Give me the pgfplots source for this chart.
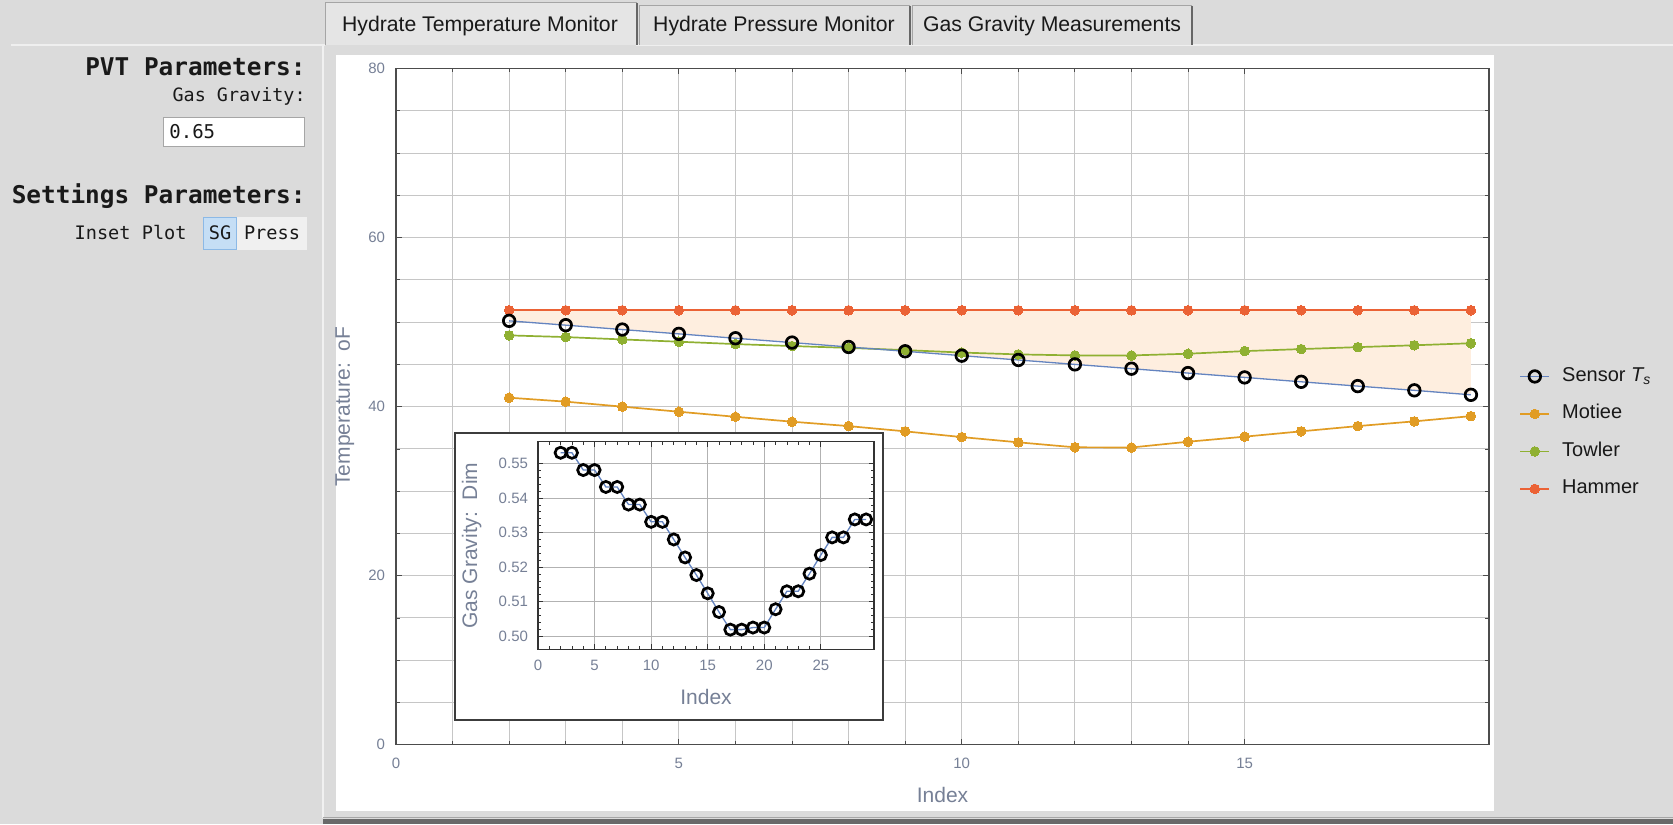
\documentclass[border=0pt]{standalone}
\usepackage{pgfplots}
\usepackage{pgfplotstable}
\pgfplotsset{compat=1.18}
\usepackage{fontspec}
\setmainfont{Liberation Sans}
\newfontfamily\mono{DejaVu Sans Mono}
\definecolor{bg}{RGB}{219,219,219}
\definecolor{tickc}{RGB}{118,128,150}
\definecolor{sblue}{RGB}{100,132,192}
\definecolor{cmot}{RGB}{225,156,36}
\definecolor{ctow}{RGB}{143,176,50}
\definecolor{cham}{RGB}{235,98,53}
\definecolor{peach}{RGB}{254,238,223}
\definecolor{tabfill}{RGB}{224,224,224}
\definecolor{tabsel}{RGB}{229,229,229}
\definecolor{tabborder}{RGB}{165,165,165}
\definecolor{txt}{RGB}{25,25,25}
\definecolor{darkband}{RGB}{105,105,105}
\definecolor{pressbg}{RGB}{240,240,240}
\definecolor{sgfill}{RGB}{197,222,245}
\definecolor{sgborder}{RGB}{140,185,230}
\definecolor{boxborder}{RGB}{60,60,60}

\pgfplotstableread{
x sen mot tow ham
2 50.15 41.06 48.43 51.4
3 49.64 40.59 48.23 51.4
4 49.12 40.00 47.95 51.4
5 48.61 39.40 47.68 51.4
6 48.09 38.80 47.40 51.4
7 47.58 38.22 47.17 51.4
8 47.06 37.70 46.95 51.4
9 46.55 37.08 46.69 51.4
10 46.03 36.40 46.40 51.4
11 45.52 35.78 46.18 51.4
12 45.00 35.19 46.06 51.4
13 44.49 35.17 46.06 51.4
14 43.97 35.85 46.26 51.4
15 43.46 36.45 46.57 51.4
16 42.94 37.08 46.81 51.4
17 42.43 37.70 47.04 51.4
18 41.93 38.26 47.26 51.4
19 41.40 38.88 47.50 51.4
}\maindata

\pgfplotstableread{
x sg
2 0.5531
3 0.5531
4 0.5481
5 0.5481
6 0.5432
7 0.5432
8 0.5381
9 0.5381
10 0.5331
11 0.5331
12 0.5280
13 0.5228
14 0.5177
15 0.5124
16 0.5070
17 0.5019
18 0.5019
19 0.5025
20 0.5025
21 0.5078
22 0.5130
23 0.5130
24 0.5181
25 0.5235
26 0.5286
27 0.5286
28 0.5338
29 0.5338
}\insetdata

\begin{document}
\begin{tikzpicture}
\begin{scope}[x=0.5pt,y=-0.5pt]
\fill[bg] (0,0) rectangle (1673,824);
\path[use as bounding box] (0,0) rectangle (1673,824);
% horizontal separator under tabs
\draw[white!55!bg, line width=1pt] (11,45) -- (325,45);
\draw[white!55!bg, line width=1pt] (636,45) -- (1673,45);
% tabs
\filldraw[fill=tabsel, draw=tabborder, line width=0.4pt] (325,45) -- (325,2) -- (636,2) -- (636,45);
\draw[gray!80!black, line width=0.6pt] (637,3) -- (637,45);
\filldraw[fill=tabfill, draw=tabborder, line width=0.4pt] (639,45) -- (639,5) -- (909,5) -- (909,45);
\draw[gray!80!black, line width=0.6pt] (910,6) -- (910,45);
\filldraw[fill=tabfill, draw=tabborder, line width=0.4pt] (912,45) -- (912,5) -- (1191,5) -- (1191,45);
\draw[gray!80!black, line width=0.6pt] (1192,6) -- (1192,45);
\node[text=txt, font=\fontsize{10.6}{12}\selectfont] at (480,26) {Hydrate Temperature Monitor};
\node[text=txt, font=\fontsize{10.6}{12}\selectfont] at (774,26) {Hydrate Pressure Monitor};
\node[text=txt, font=\fontsize{10.6}{12}\selectfont] at (1052,26) {Gas Gravity Measurements};
% content panel edge
\draw[white!60!bg, line width=1pt] (323,46) -- (323,818);
% white plot area
\fill[white] (336,55) rectangle (1494,811);
% bottom dark band
\fill[darkband] (323,819) rectangle (1673,824);
\draw[gray!70, line width=0.5pt] (323,817.5) -- (1673,817.5);
% left panel
\node[anchor=east, text=txt, font=\mono\bfseries\fontsize{12.2}{14}\selectfont, inner sep=0pt] at (306,67) {PVT Parameters:};
\node[anchor=east, text=txt, font=\mono\fontsize{9.2}{11}\selectfont, inner sep=0pt] at (306,96) {Gas Gravity:};
\filldraw[fill=white, draw=gray!70, line width=0.5pt] (163,117) rectangle (304,146);
\node[anchor=west, text=txt, font=\mono\fontsize{9.5}{11}\selectfont, inner sep=0pt] at (169,131.5) {0.65};
\node[anchor=east, text=txt, font=\mono\bfseries\fontsize{12.2}{14}\selectfont, inner sep=0pt] at (306,196) {Settings Parameters:};
\node[anchor=east, text=txt, font=\mono\fontsize{9.3}{11}\selectfont, inner sep=0pt] at (187,233) {Inset Plot};
\fill[pressbg] (237,217) rectangle (307,250);
\filldraw[fill=sgfill, draw=sgborder, line width=0.6pt] (203.5,217.5) rectangle (236.5,249.5);
\node[text=txt, font=\mono\fontsize{9.3}{11}\selectfont, inner sep=0pt] at (220,233) {SG};
\node[text=txt, font=\mono\fontsize{9.3}{11}\selectfont, inner sep=0pt] at (272,233) {Press};
\end{scope}

% ---------------- main axis ----------------
\begin{axis}[
  at={(198pt,-34.25pt)}, anchor=north west,
  scale only axis, width=546.5pt, height=338.15pt,
  xmin=0, xmax=19.32, ymin=0, ymax=80,
  xtick={0,5,10,15}, ytick={0,20,40,60,80},
  minor x tick num=4, minor y tick num=3,
  grid=both,
  major grid style={draw=gray!45, line width=0.5pt},
  minor grid style={draw=gray!45, line width=0.5pt},
  axis line style={draw=gray!60!black, line width=0.6pt},
  tick style={draw=gray!60!black, line width=0.4pt},
  major tick length=3pt, minor tick length=1.8pt,
  tick align=inside,
  /pgf/number format/assume math mode=true,
  ticklabel style={font=\fontsize{7.5}{8}\selectfont, text=tickc},
  xticklabel style={yshift=-3.3pt},
  yticklabel style={xshift=-2pt},
  xlabel={Index}, ylabel={Temperature:\ \ oF},
  label style={font=\fontsize{10.5}{12}\selectfont, text=tickc},
  x label style={at={(axis description cs:0.5,-0.0742)}, anchor=center},
  y label style={at={(axis description cs:-0.0467,0.5)}, anchor=center},
  reverse legend,
  legend image code/.code={\draw[mark repeat=2,mark phase=2,#1] plot coordinates {(0pt,0pt) (7.25pt,0pt) (14.5pt,0pt)};},
  legend style={draw=none, fill=none, at={(axis description cs:1.0275,0.4615)}, anchor=west,
    inner sep=0pt, row sep=8.75pt, column sep=6pt,
    nodes={inner sep=0pt, text height=7.5pt, text depth=2.5pt},
    font=\fontsize{10}{12}\selectfont, text=txt},
  legend cell align=left,
]
\addplot[fill=peach, draw=none, forget plot] coordinates {(2,51.4) (19,51.4) (19,41.40) (2,50.15)} -- cycle;
\addplot[cham, line width=0.85pt, mark=*, mark size=2.4pt, mark options={fill=cham, draw=cham, line width=0pt}] table[x=x, y=ham] {\maindata};
\addlegendentry{Hammer}
\addplot[ctow, line width=0.85pt, mark=*, mark size=2.4pt, mark options={fill=ctow, draw=ctow, line width=0pt}] table[x=x, y=tow] {\maindata};
\addlegendentry{Towler}
\addplot[cmot, line width=0.85pt, mark=*, mark size=2.4pt, mark options={fill=cmot, draw=cmot, line width=0pt}] table[x=x, y=mot] {\maindata};
\addlegendentry{Motiee}
\addplot[sblue, line width=0.65pt, mark=o, mark size=2.9pt, mark options={draw=black, line width=1.35pt}] table[x=x, y=sen] {\maindata};
\addlegendentry{Sensor {\itshape T}\textsubscript{\itshape s}}
\end{axis}

% inset box
\filldraw[fill=white, draw=boxborder, line width=1pt] (227.5pt,-216.5pt) rectangle (441.5pt,-360pt);

% ---------------- inset axis ----------------
\begin{axis}[
  at={(269pt,-220.85pt)}, anchor=north west,
  scale only axis, width=168pt, height=103.8pt,
  xmin=0, xmax=29.7, ymin=0.4962, ymax=0.5563,
  xtick={0,5,10,15,20,25}, ytick={0.50,0.51,0.52,0.53,0.54,0.55},
  yticklabels={0.50,0.51,0.52,0.53,0.54,0.55},
  minor x tick num=4, minor y tick num=4,
  grid=major,
  major grid style={draw=gray!60, line width=0.5pt},
  axis line style={draw=gray!40!black, line width=0.6pt},
  tick style={draw=gray!40!black, line width=0.4pt},
  major tick length=2.5pt, minor tick length=1.5pt,
  tick align=inside,
  /pgf/number format/assume math mode=true,
  ticklabel style={font=\fontsize{7.5}{8}\selectfont, text=tickc},
  xticklabel style={yshift=-2pt},
  yticklabel style={xshift=-1.5pt},
  xlabel={Index}, ylabel={Gas Gravity:\ \ Dim},
  label style={font=\fontsize{10.5}{12}\selectfont, text=tickc},
  x label style={at={(axis description cs:0.5,-0.2283)}, anchor=center},
  y label style={at={(axis description cs:-0.1973,0.5)}, anchor=center},
]
\addplot[sblue, line width=0.65pt, mark=o, mark size=2.8pt, mark options={draw=black, line width=1.35pt}] table[x=x, y=sg] {\insetdata};
\end{axis}
\end{tikzpicture}
\end{document}
